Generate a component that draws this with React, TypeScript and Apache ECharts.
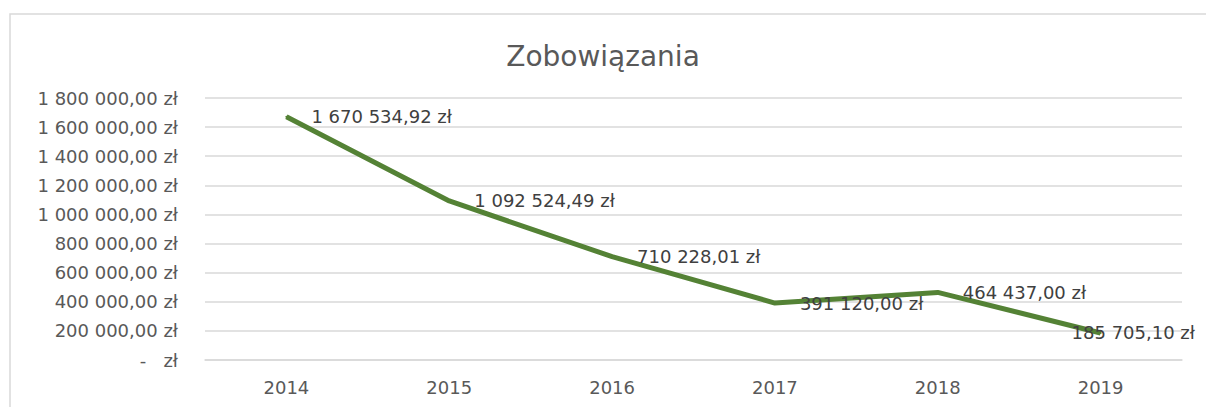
import React, { useEffect, useRef } from "react";
import * as echarts from "echarts";

const years = ["2014", "2015", "2016", "2017", "2018", "2019"];
const liabilities = [1670534.92, 1092524.49, 710228.01, 391120.0, 464437.0, 185705.1];
const chartTitle = "Zobowiązania";

function fmtPLN(v: number): string {
  if (v === 0) return "-   zł";
  const [intPart, dec] = v.toFixed(2).split(".");
  const grouped = intPart.replace(/\B(?=(\d{3})+(?!\d))/g, " ");
  return `${grouped},${dec} zł`;
}

export default function App() {
  const ref = useRef<HTMLDivElement>(null);
  useEffect(() => {
    document.body.style.margin = "0";
    const chart = echarts.init(ref.current!, undefined, { renderer: "svg" });
    const font = "'DejaVu Sans', sans-serif";
    chart.setOption({
      animation: false,
      backgroundColor: "#ffffff",
      textStyle: { fontFamily: font },
      title: {
        text: chartTitle,
        left: "center",
        top: 37,
        textStyle: { fontFamily: font, fontSize: 28, fontWeight: "normal", color: "#595959" },
      },
      graphic: [
        {
          type: "rect",
          shape: { x: 10, y: 14, width: 1220, height: 420 },
          style: { fill: "none", stroke: "#d9d9d9", lineWidth: 1.5 },
          silent: true,
        },
      ],
      grid: { left: 205, right: 24, top: 98, bottom: 47 },
      xAxis: {
        type: "category",
        data: years,
        boundaryGap: true,
        axisLine: { show: true, lineStyle: { color: "#d9d9d9", width: 1.5 } },
        axisTick: { show: false },
        axisLabel: { color: "#595959", fontSize: 18, margin: 18, fontFamily: font },
      },
      yAxis: {
        type: "value",
        min: 0,
        max: 1800000,
        interval: 200000,
        axisLine: { show: false },
        axisTick: { show: false },
        splitLine: { lineStyle: { color: "#d9d9d9", width: 1.5 } },
        axisLabel: {
          color: "#595959",
          fontSize: 18,
          margin: 27,
          fontFamily: font,
          formatter: (v: number) => fmtPLN(v),
        },
      },
      series: [
        {
          type: "line",
          data: liabilities.map((v, i) =>
            i === liabilities.length - 1
              ? { value: v, label: { offset: [-54, 0] } }
              : { value: v }
          ),
          symbol: "circle",
          symbolSize: 2,
          showSymbol: true,
          lineStyle: { color: "#548235", width: 5 },
          itemStyle: { color: "#548235" },
          label: {
            show: true,
            position: "right",
            distance: 24,
            color: "#404040",
            fontSize: 18,
            fontFamily: font,
            formatter: (p: any) => fmtPLN(p.value),
          },
        },
      ],
    });
    return () => chart.dispose();
  }, []);
  return <div ref={ref} style={{ width: 1206, height: 407 }} />;
}
